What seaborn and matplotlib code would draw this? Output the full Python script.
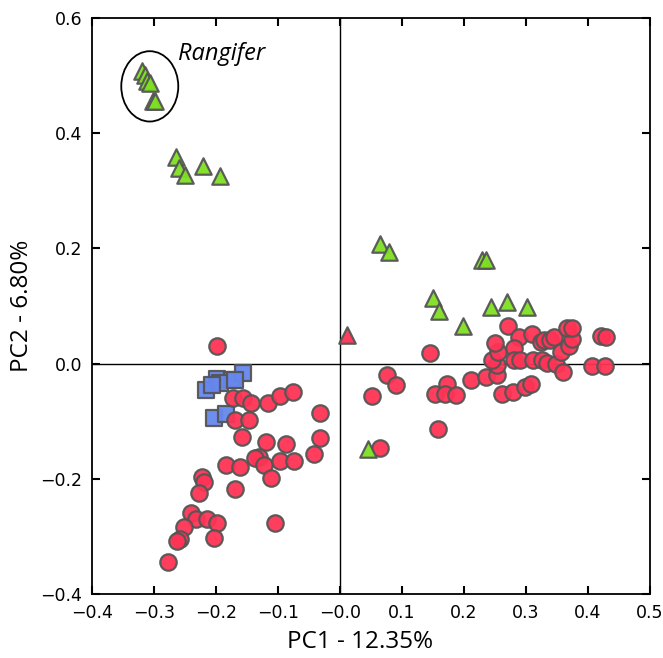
import numpy as np
import pandas as pd
import matplotlib
matplotlib.use("Agg")
import matplotlib.pyplot as plt
from matplotlib.patches import Ellipse
import seaborn as sns

# PCA scores
circle_x = [-0.199, -0.172, -0.156, -0.143, -0.116, -0.096, -0.076, -0.032, -0.169, -0.147,
            -0.158, -0.119, -0.087, -0.033, -0.042, -0.131, -0.137, -0.123, -0.097, -0.074,
            -0.184, -0.162, -0.111, -0.223, -0.220, -0.227, -0.169, -0.241, -0.232, -0.215,
            -0.199, -0.252, -0.258, -0.263, -0.203, -0.105, -0.278,
            0.145, 0.076, 0.091, 0.051, 0.064, 0.159, 0.172, 0.154, 0.169, 0.188, 0.211,
            0.236, 0.254, 0.254, 0.246, 0.255, 0.250, 0.272, 0.289, 0.310, 0.281, 0.281,
            0.291, 0.312, 0.326, 0.334, 0.348, 0.360, 0.261, 0.279, 0.298, 0.309, 0.324,
            0.329, 0.339, 0.345, 0.356, 0.370, 0.375, 0.367, 0.374, 0.407, 0.427, 0.422, 0.430]
circle_y = [0.031, -0.060, -0.059, -0.068, -0.069, -0.056, -0.050, -0.085, -0.098, -0.097,
            -0.128, -0.136, -0.140, -0.129, -0.156, -0.162, -0.163, -0.176, -0.169, -0.169,
            -0.176, -0.179, -0.199, -0.196, -0.205, -0.224, -0.217, -0.259, -0.269, -0.269,
            -0.276, -0.283, -0.305, -0.308, -0.302, -0.276, -0.345,
            0.019, -0.020, -0.037, -0.056, -0.147, -0.114, -0.035, -0.053, -0.052, -0.055, -0.028,
            -0.023, -0.019, -0.003, 0.007, 0.021, 0.036, 0.066, 0.047, 0.051, 0.027, 0.006,
            0.006, 0.007, 0.006, 0.001, 0.000, -0.014, -0.052, -0.050, -0.040, -0.035, 0.038,
            0.041, 0.041, 0.047, 0.021, 0.031, 0.042, 0.061, 0.062, -0.005, -0.005, 0.048, 0.047]

green_x = [-0.320, -0.314, -0.311, -0.307, -0.302, -0.298,
           -0.264, -0.260, -0.250, -0.221, -0.193,
           0.065, 0.079, 0.230, 0.235, 0.150, 0.160, 0.199, 0.244, 0.269, 0.302, 0.045]
green_y = [0.507, 0.501, 0.491, 0.487, 0.456, 0.455,
           0.359, 0.339, 0.327, 0.342, 0.325,
           0.208, 0.194, 0.179, 0.179, 0.114, 0.092, 0.065, 0.098, 0.107, 0.099, -0.149]

red_tri_x = [0.012]
red_tri_y = [0.050]

square_x = [-0.199, -0.174, -0.156, -0.217, -0.193, -0.169, -0.204, -0.184, -0.207]
square_y = [-0.026, -0.029, -0.017, -0.046, -0.034, -0.029, -0.095, -0.088, -0.037]

df = pd.concat([
    pd.DataFrame({"PC1": square_x, "PC2": square_y, "group": "square"}),
    pd.DataFrame({"PC1": circle_x, "PC2": circle_y, "group": "circle"}),
    pd.DataFrame({"PC1": red_tri_x, "PC2": red_tri_y, "group": "red_tri"}),
    pd.DataFrame({"PC1": green_x, "PC2": green_y, "group": "green_tri"}),
], ignore_index=True)

palette = {"square": "#6688ee", "circle": "#ff3355", "red_tri": "#ff3355", "green_tri": "#7ee022"}
markers = {"square": "s", "circle": "o", "red_tri": "^", "green_tri": "^"}

sns.set_style("ticks")
plt.rcParams["font.family"] = ["DejaVu Sans"]
plt.rcParams["text.color"] = "black"
plt.rcParams["axes.labelcolor"] = "black"

fig = plt.figure(figsize=(6.63, 6.58), dpi=100)
ax = fig.add_axes([0.139, 0.097, 0.841, 0.876])

for g in ["square", "circle", "red_tri", "green_tri"]:
    sub = df[df["group"] == g]
    sns.scatterplot(data=sub, x="PC1", y="PC2", color=palette[g], marker=markers[g],
                    s=140 if g != "square" else 130, edgecolor="#555555", linewidth=1.6,
                    alpha=0.95, ax=ax, legend=False, zorder=3)

ax.axhline(0, color="black", lw=1, zorder=1)
ax.axvline(0, color="black", lw=1, zorder=1)

ax.add_patch(Ellipse((-0.307, 0.481), 0.092, 0.122, fill=False, edgecolor="black", lw=1.3, zorder=4))
ax.text(-0.262, 0.527, "Rangifer", fontsize=17, style="italic", family=["Open Sans", "DejaVu Sans"])

ax.set_xlim(-0.4, 0.5)
ax.set_ylim(-0.4, 0.6)
ax.set_xticks(np.arange(-0.4, 0.51, 0.1))
ax.set_yticks(np.arange(-0.4, 0.61, 0.2))
ax.set_xticklabels([f"{v:.1f}".replace("-", "\u2212") for v in np.arange(-0.4, 0.51, 0.1)])
ax.set_yticklabels([f"{v:.1f}".replace("-", "\u2212") for v in np.arange(-0.4, 0.61, 0.2)])
ax.tick_params(direction="in", length=6, width=1.5, top=True, right=True, labelsize=12.5,
               colors="black")
ax.tick_params(axis="x", pad=7)
ax.tick_params(axis="y", pad=7)
for sp in ax.spines.values():
    sp.set_linewidth(1.3)
    sp.set_color("black")
ax.set_xlabel("PC1 - 12.35%", fontsize=17.5, family=["Open Sans", "DejaVu Sans"])
ax.set_ylabel("PC2 - 6.80%", fontsize=17.5, family=["Open Sans", "DejaVu Sans"])
ax.xaxis.set_label_coords(0.48, -0.063)
ax.yaxis.set_label_coords(-0.104, 0.5)

fig.savefig("out.png", dpi=100)
